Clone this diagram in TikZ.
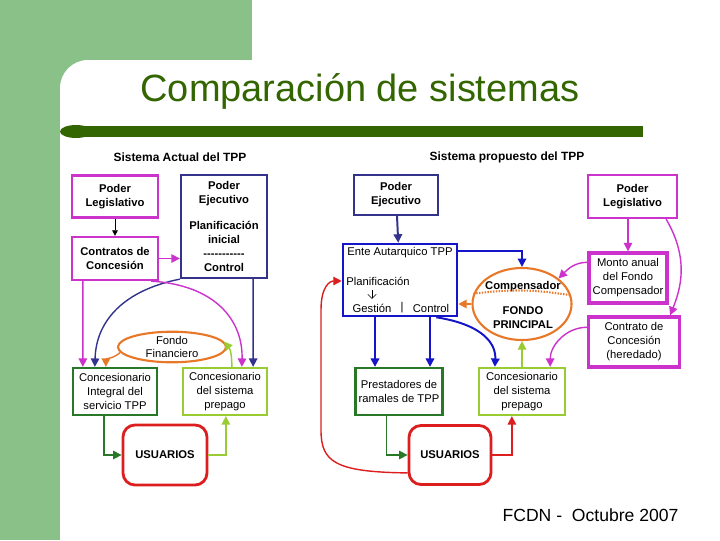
\documentclass[tikz,border=0pt]{standalone}
\usepackage{fontspec}
\setmainfont{Liberation Sans}
\usepackage{tikz}
\usetikzlibrary{arrows.meta, shapes.geometric, positioning, calc}

\definecolor{slidegreen}{RGB}{137,193,137}
\definecolor{titlegreen}{RGB}{51,102,0}
\definecolor{mag}{RGB}{204,51,204}
\definecolor{navy}{RGB}{51,51,140}
\definecolor{entblue}{RGB}{20,20,200}
\definecolor{dgreen}{RGB}{40,120,40}
\definecolor{lgreen}{RGB}{153,204,51}
\definecolor{ured}{RGB}{220,30,30}
\definecolor{forange}{RGB}{232,120,40}

\begin{document}
\begin{tikzpicture}[
    % GLOBAL CFG
    x=0.025cm, y=-0.025cm,
    font=\fontsize{8}{10}\selectfont,
    >={Triangle[width=6pt,length=6pt]},
    % Styles
    box/.style={% For the square boxes
        rectangle,
        draw,
        line width=1.6pt,
        align=center,
        inner sep=1pt,
        minimum width=2.15cm,
        minimum height=1.05cm,
        },
    bold/.style={% bold box text
        font=\fontsize{8}{10}\selectfont\bfseries
        },
    usu/.style={% For USUARIOS
        rectangle,
        rounded corners=3mm,
        draw=ured,
        line width=2pt,
        minimum width=2.1cm,
        minimum height=1.5cm,
        font=\fontsize{8}{10}\selectfont\bfseries,
        },
    fondo/.style={% For the funds
        ellipse,
        draw=forange,
        line width=1.5pt,
        inner sep=0pt,
        align=center,
        },
    hdr/.style={% column headers
        font=\fontsize{8.5}{10}\selectfont\bfseries
        },
    link/.style={% Arrows
        line width=1pt,
        },
    ]

%Background of the slide
    \useasboundingbox (0,0) rectangle (720,540);
    \fill [slidegreen] (0,0) rectangle (252,60);
    \fill [slidegreen] (0,0) rectangle (60,540);
    \fill [slidegreen] (60,60) rectangle (90,90);
    \fill [white, rounded corners=20] (60,60) rectangle (200,130);
    \fill [titlegreen] (72,126) rectangle (643,137);
    \fill [titlegreen] (76,131.5) ellipse [x radius=16, y radius=6.5];

    \node [font=\fontsize{27}{30}\selectfont, text=titlegreen] (title) at (360,91) {Comparación de sistemas};
    \node [font=\fontsize{12.5}{14}\selectfont] (foot) at (590.5,515) {FCDN -\ \ Octubre 2007};

    % Current system
    \node [hdr] (hdrL) at (180,157) {Sistema Actual del TPP};
    \node [box, bold, draw=mag] (legL) at (115,196.5) {Poder\\Legislativo};
    \node [box, bold, draw=navy, minimum height=2.575cm] (ejeL) at (224,226.5)
        {Poder\\Ejecutivo\\[8pt]Planificación\\inicial\\-{}-{}-{}-{}-{}-{}-{}-{}-{}-{}-\\Control};
    \node [box, bold, draw=mag, minimum height=1.075cm] (conL) at (115,258.5) {Contratos de\\Concesión};
    \node [box, draw=dgreen, minimum width=2.1cm, minimum height=1.175cm] (intL) at (115,391.5) {Concesionario\\Integral del\\servicio TPP};
    \node [box, draw=lgreen, minimum width=2.1cm, minimum height=1.175cm] (preL) at (225,391.5) {Concesionario\\del sistema\\prepago};
    \node [usu] (usuL) at (165,455) {USUARIOS};
    \node [fondo, minimum width=2.7cm, minimum height=0.75cm, font=\fontsize{8}{9.5}\selectfont] (fondoL) at (172,347) {Fondo\\Financiero};

    \draw [->, line width=0.6pt, >={Triangle[width=4pt,length=4pt]}] (legL) -- (conL);
    \draw [->, link, mag] (conL) -- (conL -| ejeL.west);
    \draw [->, link, mag] ($(conL.south west)+(12,0)$) -- ($(intL.north west)+(11,0)$);
    \draw [->, link, navy] (ejeL.south west) .. controls (125,290) and (96,320) .. ($(intL.north west)+(23,0)$);
    \draw [->, link, mag] ($(conL.south east)+(-8,0)$) .. controls (215,285) and (243,320) .. ($(preL.north west)+(60,0)$);
    \draw [->, link, navy] ($(ejeL.south east)+(-15,0)$) -- ($(preL.north east)+(-15,0)$);
    \draw [->, link, forange] (fondoL.186) to [out=225, in=90] ($(intL.north west)+(34,0)$);
    \draw [->, link, lgreen] ($(preL.north west)+(50,0)$) to [out=90, in=-50] (fondoL.6);
    \draw [->, link, dgreen] ($(intL.south west)+(32,0)$) |- (usuL);
    \draw [->, link, lgreen] (usuL) -| ($(preL.south west)+(44,0)$);

    % Proposed system
    \node [hdr] (hdrR) at (507,157) {Sistema propuesto del TPP};
    \node [box, bold, draw=navy, minimum width=2.1cm, minimum height=1.0cm] (ejeM) at (396,195) {Poder\\Ejecutivo};
    \node [box, draw=entblue, line width=1.8pt, minimum width=2.85cm, minimum height=1.8cm] (ente) at (400,280) {};
    \node (enteT) at (400,253) {Ente Autarquico TPP};
    \node (plan) at (378,281) {Planificación};
    \node (gest) at (372,308) {Gestión};
    \node (bar) at (402,308) {|};
    \node (ctrl) at (431,308) {Control};
    \draw [-{Straight Barb[length=3pt,width=6pt]}, line width=0.4pt] (plan.south -| gest.north) -- (gest.north);

    \node [fondo, minimum width=2.475cm, minimum height=1.8cm] (fondoP) at (522,304) {};
    \node [bold] (comp) at (523,287) {Compensador};
    \node [bold, align=center] (fp) at (523,317.5) {FONDO\\PRINCIPAL};
    \draw [forange, line width=1.5pt, dash pattern=on 1pt off 1pt] (fondoP.168) to [bend left=8] (fondoP.10);

    \node [box, bold, draw=mag, minimum width=2.225cm, minimum height=1.075cm] (legR) at (632.5,196.5) {Poder\\Legislativo};
    \node [box, draw=mag, line width=2.4pt, minimum width=1.95cm, minimum height=1.25cm] (monto) at (628,278) {Monto anual\\del Fondo\\Compensador};
    \node [box, draw=mag, line width=2.4pt, minimum width=2.275cm, minimum height=1.25cm] (contrato) at (634,342) {Contrato de\\Concesión\\(heredado)};

    \node [box, draw=dgreen, minimum width=2.175cm, minimum height=1.175cm] (pres) at (399,391.5) {Prestadores de\\ramales de TPP};
    \node [box, draw=lgreen, minimum width=2.15cm, minimum height=1.175cm] (preM) at (522,391.5) {Concesionario\\del sistema\\prepago};
    \node [usu, minimum width=2.05cm, minimum height=1.475cm] (usuM) at (450,455) {USUARIOS};

    \draw [->, navy, line width=1.4pt] (ejeM) -- (ente);
    \draw [->, entblue, line width=1.4pt] ($(ente.north east)+(0,8)$) -| (fondoP);
    \draw [->, forange, line width=1.4pt] (fondoP) -- (fondoP -| ente.east);
    \draw [->, link, mag] (monto |- legR.south) -- (monto);
    \draw [->, link, mag] ($(legR.south east)+(-12,0)$) .. controls (690,260) and (680,290) .. ($(contrato.north east)+(-11,0)$);
    \draw [->, link, mag] ($(monto.north west)+(0,11)$) to [out=180, in=45] (fondoP.35);
    \draw [->, link, mag] ($(contrato.north west)+(0,12)$) to [out=180, in=90] ($(preM.north east)+(-16,0)$);
    \draw [->, entblue, line width=1.4pt] ($(ente.south)+(-25,0)$) -- ($(pres.north)+(-24,0)$);
    \draw [->, entblue, line width=1.4pt] ($(ente.south)+(30,0)$) -- ($(pres.north)+(31,0)$);
    \draw [->, entblue, line width=1.4pt] ($(ente.south east)+(-22,0)$) .. controls (485,325) and (496,345) .. ($(preM.north west)+(17,0)$);
    \draw [->, link, lgreen] (preM.north) -- (fondoP.south);
    \draw [->, link, dgreen] ($(pres.south west)+(32,0)$) |- (usuM);
    \draw [->, link, ured] (usuM) -| ($(preM.south west)+(34,0)$);
    \draw [->, link, ured] ($(usuM.south west)+(0,-13)$) .. controls (335,472) and (321,462) .. (321,430) -- (321,310) .. controls (321,286) and (330,281) .. (ente.west |- plan);

\end{tikzpicture}
\end{document}
